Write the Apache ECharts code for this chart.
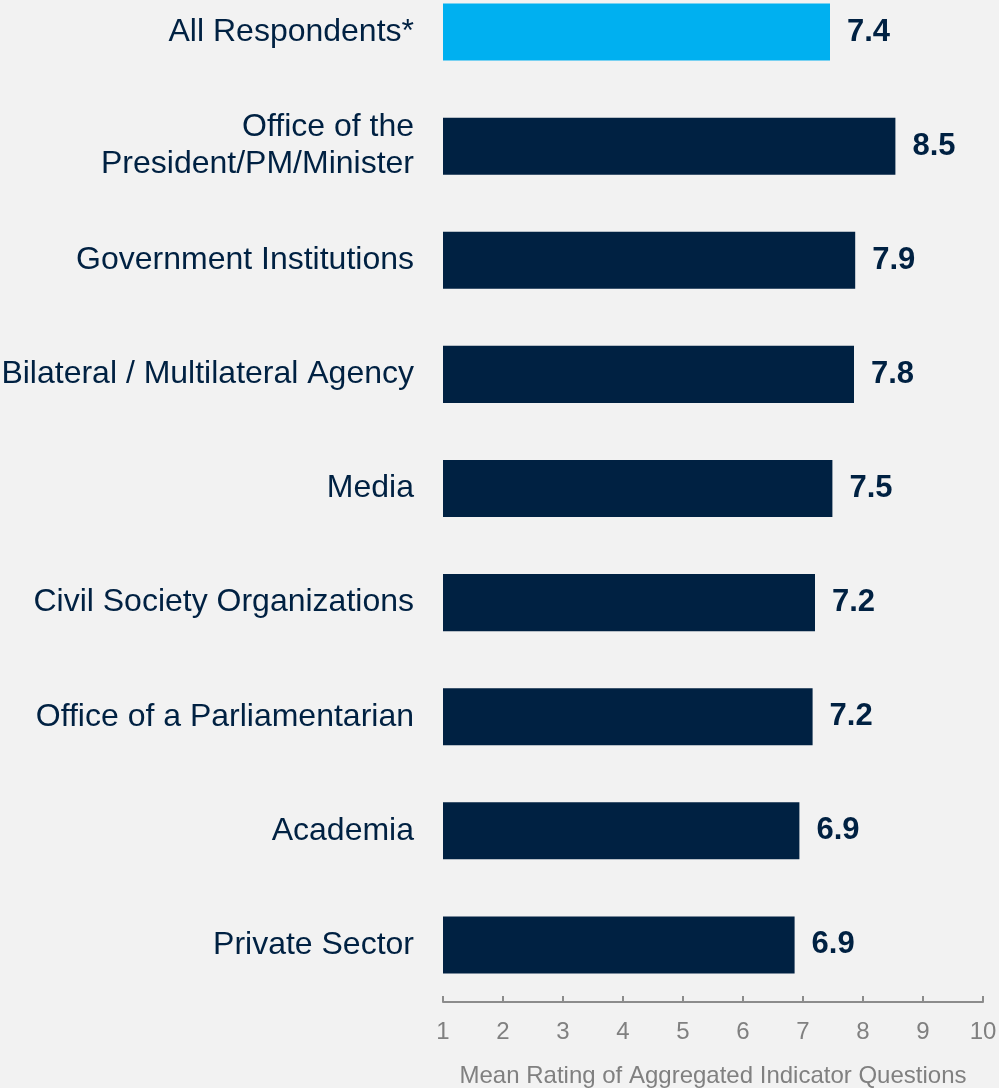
<!DOCTYPE html>
<html>
<head>
<meta charset="utf-8">
<script src="https://cdn.jsdelivr.net/npm/echarts@6/dist/echarts.min.js"></script>
<style>
	html, body { margin: 0; padding: 0; background: #f2f2f2; }
	#chart { width: 999px; height: 1088px; }
</style>
</head>
<body>
<div id="chart"></div>
<script>
var categories = [
	'All Respondents*',
	'Office of the\nPresident/PM/Minister',
	'Government Institutions',
	'Bilateral / Multilateral Agency',
	'Media',
	'Civil Society Organizations',
	'Office of a Parliamentarian',
	'Academia',
	'Private Sector'
];
// bar lengths
var values = [7.45, 8.54, 7.87, 7.85, 7.49, 7.20, 7.16, 6.94, 6.86];
// printed value labels
var valueLabels = ['7.4', '8.5', '7.9', '7.8', '7.5', '7.2', '7.2', '6.9', '6.9'];
var xTicks = [1, 2, 3, 4, 5, 6, 7, 8, 9, 10];

var navy = '#002142';
var font = 'Arial, "Liberation Sans", sans-serif';

var myChart = echarts.init(document.getElementById('chart'));

var seriesData = values.map(function (v, i) {
	var item = { value: v };
	if (i === 0) {
		item.itemStyle = { color: '#00b0f0' };
	}
	return item;
});

var option = {
	backgroundColor: '#f2f2f2',
	animation: false,
	grid: {
		left: 443,
		right: 16,
		top: -25,
		bottom: 86,
		containLabel: false,
		outerBoundsMode: 'none'
	},
	xAxis: {
		type: 'value',
		min: xTicks[0],
		max: xTicks[xTicks.length - 1],
		interval: 1,
		name: 'Mean Rating of Aggregated Indicator Questions',
		nameLocation: 'middle',
		nameGap: 62,
		nameTextStyle: {
			color: '#808080',
			fontSize: 24,
			fontFamily: font
		},
		axisLine: {
			show: true,
			lineStyle: { color: '#8c8c8c', width: 2 }
		},
		axisTick: {
			show: true,
			inside: true,
			length: 6,
			lineStyle: { color: '#8c8c8c', width: 2 }
		},
		axisLabel: {
			color: '#808080',
			fontSize: 24,
			fontFamily: font,
			margin: 18
		},
		splitLine: { show: false }
	},
	yAxis: {
		type: 'category',
		inverse: true,
		data: categories,
		axisLine: { show: false },
		axisTick: { show: false },
		axisLabel: {
			color: navy,
			fontSize: 32,
			lineHeight: 37,
			fontFamily: font,
			margin: 29,
			align: 'right'
		}
	},
	series: [
		{
			type: 'bar',
			data: seriesData,
			barWidth: '50%',
			itemStyle: { color: navy },
			label: {
				show: true,
				position: 'right',
				distance: 17,
				color: navy,
				fontSize: 31,
				fontWeight: 'bold',
				fontFamily: font,
				formatter: function (p) {
					return valueLabels[p.dataIndex];
				}
			}
		}
	]
};

myChart.setOption(option);
</script>
</body>
</html>
